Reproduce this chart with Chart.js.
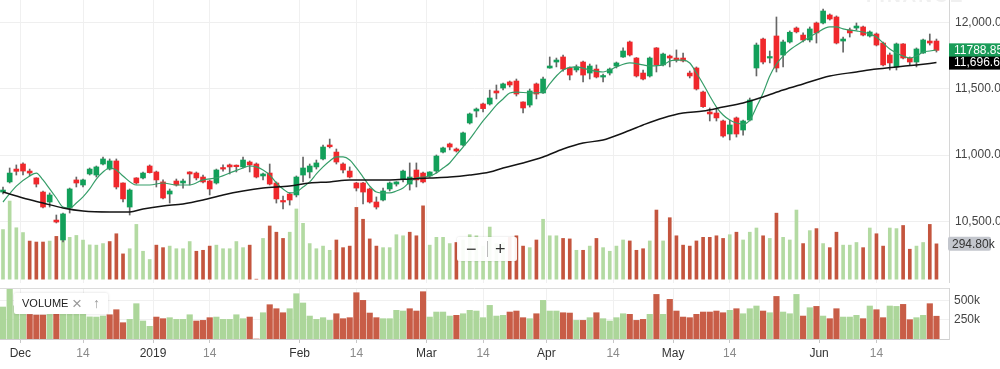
<!DOCTYPE html>
<html>
<head>
<meta charset="utf-8">
<script src="https://cdn.jsdelivr.net/npm/chart.js@4.4.1/dist/chart.umd.min.js"></script>
<style>
  html, body { margin: 0; padding: 0; background: #fff; overflow: hidden; }
  body { width: 1000px; height: 369px; position: relative; font-family: "Liberation Sans", Arial, sans-serif; }
  #priceChart { position: absolute; left: 0; top: 0; }
  #volChart { position: absolute; left: 0; top: 283px; }
  .watermark { position: absolute; left: 866px; top: -15px; font-size: 19px; font-weight: bold; letter-spacing: 2px; color: #f0f0f0; }
  .zoom-ctl { position: absolute; left: 457px; top: 237px; width: 60px; height: 24px; background: rgba(255,255,255,0.92);
    box-shadow: 0 0 2px rgba(0,0,0,0.18); border-radius: 2px; color: #333; font-size: 18px; line-height: 24px; }
  .zoom-ctl span { position: absolute; top: 0; }
  .zoom-ctl .sep { left: 30px; top: 4px; width: 1px; height: 16px; background: #bbb; }
  .legend-box { position: absolute; left: 14px; top: 293px; width: 94px; height: 21px; background: #fff;
    box-shadow: 0 0 3px rgba(0,0,0,0.15); border-radius: 2px; font-size: 11px; line-height: 21px; color: #222; }
  .legend-box span { position: absolute; top: 0; }
</style>
</head>
<body>
<canvas id="priceChart" width="1000" height="283"></canvas>
<canvas id="volChart" width="1000" height="86"></canvas>
<div class="watermark">FINANCE</div>
<div class="zoom-ctl"><span style="left:9px">−</span><span class="sep"></span><span style="left:38px">+</span></div>
<div class="legend-box"><span style="left:8px">VOLUME</span><span style="left:58px;color:#999;font-size:17px;font-weight:300">×</span><span style="left:79px;color:#999;font-size:14px">↑</span></div>
<script>
// Daily candles, one per trading day (index 0 = late Nov 2018)
const opens = [10722,10798,10895,10933,10880,10828,10722,10647,10511,10361,10602,10813,10775,10858,10850,10933,10895,10956,10790,10609,
  10828,10828,10918,10873,10798,10707,10805,10790,10873,10865,10835,10805,10790,10903,10926,10918,10911,10948,10933,10843,
  10865,10790,10655,10707,10700,10850,10873,10911,10971,11076,11023,10933,10880,10790,10790,10745,10647,10662,10745,10782,
  10820,10782,10888,10865,10843,10880,11023,11084,11046,11076,11242,11332,11385,11385,11483,11505,11551,11558,11400,11377,
  11536,11468,11656,11701,11739,11656,11641,11701,11618,11648,11588,11618,11671,11739,11852,11731,11618,11596,11807,11679,
  11746,11731,11731,11618,11656,11475,11325,11317,11257,11159,11280,11189,11264,11656,11874,11731,11897,11754,11852,11957,
  11904,11867,11995,11995,12055,12040,11859,11942,11957,11965,11897,11912,11844,11754,11664,11837,11731,11701,11769,11859,11859];
const highs = [10760,10903,10926,10941,10895,10830,10730,10715,10549,10564,10752,10835,10820,10903,10918,10986,10971,10971,10792,10745,
  10830,10873,10926,10880,10813,10745,10820,10820,10875,10873,10850,10813,10895,10926,10933,10926,10986,10956,10941,10865,
  10933,10798,10692,10715,10843,10986,10933,10963,11076,11121,11046,10941,10911,10795,10795,10752,10685,10752,10798,10800,
  10888,10941,10941,10873,10875,11001,11061,11091,11054,11174,11317,11355,11392,11490,11528,11543,11558,11573,11402,11498,
  11543,11588,11739,11731,11754,11664,11679,11709,11686,11679,11611,11656,11701,11807,11859,11735,11641,11739,11810,11769,
  11754,11792,11769,11633,11664,11483,11355,11347,11264,11264,11287,11264,11430,11844,11882,11784,12040,11867,11935,11965,
  11920,11965,12002,12100,12063,12048,11889,11957,11995,11972,11935,11920,11852,11769,11844,11840,11739,11807,11874,11912,11874];
const lows = [10707,10790,10850,10850,10843,10760,10602,10609,10489,10346,10564,10760,10760,10850,10835,10926,10888,10745,10647,10549,
  10782,10820,10865,10760,10670,10639,10767,10752,10775,10813,10790,10700,10782,10880,10858,10873,10903,10873,10828,10813,
  10775,10639,10594,10624,10685,10798,10828,10895,10963,11054,10933,10865,10828,10730,10632,10639,10594,10655,10730,10767,
  10798,10737,10760,10790,10835,10865,11016,11039,11023,11069,11234,11287,11325,11377,11423,11490,11513,11445,11317,11362,
  11423,11465,11654,11664,11633,11566,11626,11551,11573,11581,11551,11603,11656,11736,11746,11588,11566,11588,11626,11671,
  11664,11701,11701,11581,11490,11360,11257,11257,11136,11114,11136,11151,11257,11596,11686,11694,11626,11664,11844,11920,
  11852,11852,11844,11987,12017,11837,11776,11889,11942,11897,11889,11822,11671,11641,11641,11724,11679,11664,11766,11829,11776];
const closes = [10737,10865,10878,10880,10865,10782,10609,10700,10496,10557,10745,10790,10813,10895,10911,10971,10956,10760,10670,10737,
  10790,10865,10868,10813,10677,10730,10775,10805,10858,10828,10798,10745,10888,10895,10911,10913,10963,10926,10835,10858,
  10782,10670,10647,10662,10835,10903,10918,10941,11061,11063,10948,10888,10835,10752,10722,10647,10609,10730,10790,10798,
  10880,10835,10813,10798,10873,10993,11054,11061,11031,11167,11310,11347,11350,11430,11468,11536,11528,11460,11355,11483,
  11460,11573,11671,11716,11648,11603,11664,11603,11671,11588,11596,11648,11694,11784,11754,11596,11573,11731,11679,11761,
  11731,11716,11709,11596,11498,11365,11310,11280,11144,11227,11159,11257,11415,11829,11701,11739,11656,11852,11925,11928,
  11867,11950,11920,12085,12025,11844,11874,11920,11972,11904,11927,11829,11679,11694,11837,11731,11701,11799,11867,11844,11788.85];
// Volume in thousands
const volumes = [414,652,429,389,318,310,310,318,357,397,349,365,326,286,284,297,314,379,211,254,
  457,233,164,284,263,276,254,254,314,233,241,276,284,254,254,314,263,284,0,340,
  444,392,340,392,586,466,297,254,276,241,327,263,276,599,500,336,276,263,263,371,
  362,392,362,612,284,349,349,297,306,327,371,362,276,435,297,306,349,362,276,263,
  327,500,362,362,340,336,241,241,276,340,263,233,276,327,319,241,254,319,577,319,
  513,362,284,276,319,349,349,362,340,371,392,327,392,427,362,340,551,349,327,577,
  297,405,422,297,263,392,284,284,306,263,427,379,276,427,422,448,250,276,306,457,294.8];

// Short moving average (green), read at these candle indices
const fastMaIdx = [0,2,4,5,6,7,8,9,10,11,12,13,14,15,16,17,18,20,22,24,26,28,30,32,34,36,37,38,39,40,
  41,42,43,44,45,46,47,48,49,50,51,52,53,54,55,56,57,58,59,60,61,62,63,64,65,66,67,68,69,70,
  71,72,73,74,75,76,77,79,81,82,83,84,86,88,90,91,92,94,96,97,99,100,101,102,103,104,105,106,107,108,
  109,110,111,112,113,114,115,116,117,118,120,122,124,125,126,128,129,130,131,132,133,134,135,136,137,138,139,140];
const fastMaVal = [10647,10767,10843,10865,10813,10745,10677,10609,10602,10639,10685,10745,10820,10873,10903,10888,10843,10775,10775,10790,
  10775,10775,10813,10828,10865,10903,10918,10911,10888,10850,10790,10745,10715,10722,10760,10798,10858,10911,10956,10986,
  10986,10963,10903,10835,10767,10722,10715,10715,10730,10752,10798,10828,10835,10843,10865,10903,10941,11001,11061,11121,
  11189,11257,11317,11377,11423,11468,11475,11468,11475,11536,11596,11641,11664,11641,11626,11641,11664,11694,11679,11671,
  11679,11709,11716,11716,11694,11618,11536,11445,11362,11302,11264,11242,11234,11264,11362,11468,11596,11686,11746,11792,
  11859,11920,11965,11965,11950,11935,11927,11912,11889,11844,11799,11769,11746,11731,11746,11776,11784,11792];

// Long moving average (black)
const slowMaIdx = [0,3,6,9,12,16,19,21,24,27,30,33,36,39,43,46,49,52,55,58,61,64,67,70,73,75,78,81,84,87,
  90,93,96,99,102,105,108,111,114,117,120,124,128,131,134,137,140];
const slowMaVal = [10722,10677,10639,10602,10579,10572,10572,10594,10617,10632,10662,10700,10730,10752,10767,10790,10798,10813,10813,10813,
  10820,10828,10835,10850,10873,10903,10941,10986,11046,11091,11114,11167,11227,11280,11317,11332,11362,11392,11438,11490,
  11536,11596,11626,11648,11664,11679,11696.6];

// x-axis ticks (candle index positions) and labels
const tickPos = [2.6, 12, 22.5, 31, 44.5, 53, 63.5, 72, 81.5, 91.5, 100.5, 109, 122.4, 131];
const tickText = ['Dec','14','2019','14','Feb','14','Mar','14','Apr','14','May','14','Jun','14'];

const priceTicks = [10500, 11000, 11500, 12000];
const volTicks = [250, 500];
const lastPrice = 11788.85;
const lastSlowMa = 11696.60;
const lastVolume = 294.80;

// Colors
const upCandle = '#12a05a';
const downCandle = '#f0282c';
const wickColor = '#666';
const volUp = '#acd69a';
const volDown = '#c85d47';
const volUpOverlay = '#b3daa2';
const volDownOverlay = '#c4553e';

const xMin = -0.45;
const xMax = 141.88;

function isUpDay(i) {
  return i === 0 || closes[i] >= closes[i - 1];
}

function fmtPrice(v) {
  return v.toLocaleString('en-US', { minimumFractionDigits: 2, maximumFractionDigits: 2 });
}

// Price labels on the right axis
const priceTags = {
  id: 'priceTags',
  afterDraw(chart) {
    const ctx = chart.ctx;
    const left = chart.chartArea.right;
    ctx.save();
    ctx.font = '12px "Liberation Sans", Arial, sans-serif';
    ctx.textBaseline = 'middle';

    let yp = chart.scales.y.getPixelForValue(lastPrice);
    ctx.fillStyle = '#1a9c58';
    ctx.fillRect(left, yp - 7, 1000 - left, 14);
    ctx.fillStyle = '#fff';
    ctx.fillText('11788.85', left + 5, yp + 0.5);

    yp = chart.scales.y.getPixelForValue(lastSlowMa);
    ctx.fillStyle = '#000';
    ctx.fillRect(left, yp - 6, 1000 - left, 13);
    ctx.fillStyle = '#fff';
    ctx.fillText(fmtPrice(lastSlowMa), left + 5, yp + 0.5);

    yp = chart.scales.yv.getPixelForValue(lastVolume);
    ctx.fillStyle = '#c3c6cd';
    ctx.beginPath();
    ctx.roundRect(left - 1, yp - 7, 43, 14, 2);
    ctx.fill();
    ctx.fillStyle = '#333';
    ctx.fillText(lastVolume.toFixed(2) + 'k', left + 3, yp + 0.5);
    ctx.restore();
  }
};

// Top border line of the volume panel
const panelTop = {
  id: 'panelTop',
  afterDraw(chart) {
    const { ctx, chartArea: a } = chart;
    ctx.save();
    ctx.strokeStyle = '#dcdcdc';
    ctx.lineWidth = 1;
    ctx.beginPath();
    ctx.moveTo(a.left, a.top + 0.5);
    ctx.lineTo(a.right, a.top + 0.5);
    ctx.stroke();
    ctx.restore();
  }
};

// Main price chart
new Chart(document.getElementById('priceChart'), {
  type: 'bar',
  data: {
    datasets: [
      {
        type: 'line',
        data: slowMaIdx.map((x, k) => ({ x: x, y: slowMaVal[k] })),
        borderColor: '#141414',
        borderWidth: 1.5,
        pointRadius: 0,
        cubicInterpolationMode: 'monotone',
        yAxisID: 'y',
        order: 0
      },
      {
        type: 'line',
        data: fastMaIdx.map((x, k) => ({ x: x, y: fastMaVal[k] })),
        borderColor: '#359d68',
        borderWidth: 1.2,
        pointRadius: 0,
        cubicInterpolationMode: 'monotone',
        yAxisID: 'y',
        order: 1
      },
      {
        data: closes.map((c, i) => ({ x: i, y: [Math.min(opens[i], c), Math.max(opens[i], c)] })),
        backgroundColor: closes.map((c, i) => c >= opens[i] ? upCandle : downCandle),
        barThickness: 5,
        minBarLength: 1.5,
        grouped: false,
        yAxisID: 'y',
        order: 2
      },
      {
        data: highs.map((h, i) => ({ x: i, y: [lows[i], h] })),
        backgroundColor: wickColor,
        barThickness: 1,
        grouped: false,
        yAxisID: 'y',
        order: 3
      },
      {
        data: volumes.map((v, i) => ({ x: i, y: v })),
        backgroundColor: volumes.map((v, i) => isUpDay(i) ? volUpOverlay : volDownOverlay),
        barThickness: 3,
        grouped: false,
        yAxisID: 'yv',
        order: 5
      }
    ]
  },
  options: {
    responsive: false,
    animation: false,
    devicePixelRatio: 1,
    layout: { padding: 0 },
    plugins: { legend: { display: false }, tooltip: { enabled: false } },
    scales: {
      x: {
        type: 'linear',
        min: xMin,
        max: xMax,
        offset: false,
        afterBuildTicks: s => { s.ticks = tickPos.map(v => ({ value: v })); },
        ticks: { display: false },
        grid: { color: '#f0f0f0', drawTicks: false, offset: false },
        border: { display: false },
        afterFit: s => { s.height = 0; s.paddingLeft = 0; s.paddingRight = 0; }
      },
      y: {
        position: 'right',
        min: 10037,
        max: 12168,
        afterBuildTicks: s => { s.ticks = priceTicks.map(v => ({ value: v })); },
        ticks: {
          callback: v => fmtPrice(v),
          color: '#444',
          font: { size: 12, family: '"Liberation Sans", Arial, sans-serif' },
          padding: 6
        },
        grid: { color: '#efefef', drawTicks: false },
        border: { color: '#d6d6d6' },
        afterFit: s => { s.width = 51; s.paddingTop = 0; s.paddingBottom = 0; }
      },
      yv: {
        display: false,
        min: -32,
        max: 2330
      }
    }
  },
  plugins: [priceTags]
});

// Volume panel
new Chart(document.getElementById('volChart'), {
  type: 'bar',
  data: {
    datasets: [{
      data: volumes.map((v, i) => ({ x: i, y: v })),
      backgroundColor: volumes.map((v, i) => isUpDay(i) ? volUp : volDown),
      barThickness: 5.5,
      grouped: false
    }]
  },
  options: {
    responsive: false,
    animation: false,
    devicePixelRatio: 1,
    layout: { padding: { top: 5, left: 0, right: 0, bottom: 0 } },
    plugins: { legend: { display: false }, tooltip: { enabled: false } },
    scales: {
      x: {
        type: 'linear',
        min: xMin,
        max: xMax,
        offset: false,
        afterBuildTicks: s => { s.ticks = tickPos.map(v => ({ value: v })); },
        ticks: {
          callback: (v, i) => tickText[i],
          color: c => /^\d+$/.test(tickText[c.index]) && tickText[c.index] !== '2019' ? '#8a8a8a' : '#333',
          font: { size: 12, family: '"Liberation Sans", Arial, sans-serif' },
          padding: 3,
          maxRotation: 0,
          autoSkip: false
        },
        grid: { color: '#f0f0f0', tickLength: 4, tickColor: '#c8c8c8', offset: false },
        border: { color: '#cfcfcf' },
        afterFit: s => { s.height = 30; s.paddingLeft = 0; s.paddingRight = 0; }
      },
      y: {
        position: 'right',
        min: 0,
        max: 660,
        afterBuildTicks: s => { s.ticks = volTicks.map(v => ({ value: v })); },
        ticks: {
          callback: v => v + 'k',
          color: '#444',
          font: { size: 12, family: '"Liberation Sans", Arial, sans-serif' },
          padding: 5
        },
        grid: { color: '#f0f0f0', drawTicks: false },
        border: { color: '#d6d6d6' },
        afterFit: s => { s.width = 51; s.paddingTop = 0; s.paddingBottom = 0; }
      }
    }
  },
  plugins: [panelTop]
});
</script>
</body>
</html>
